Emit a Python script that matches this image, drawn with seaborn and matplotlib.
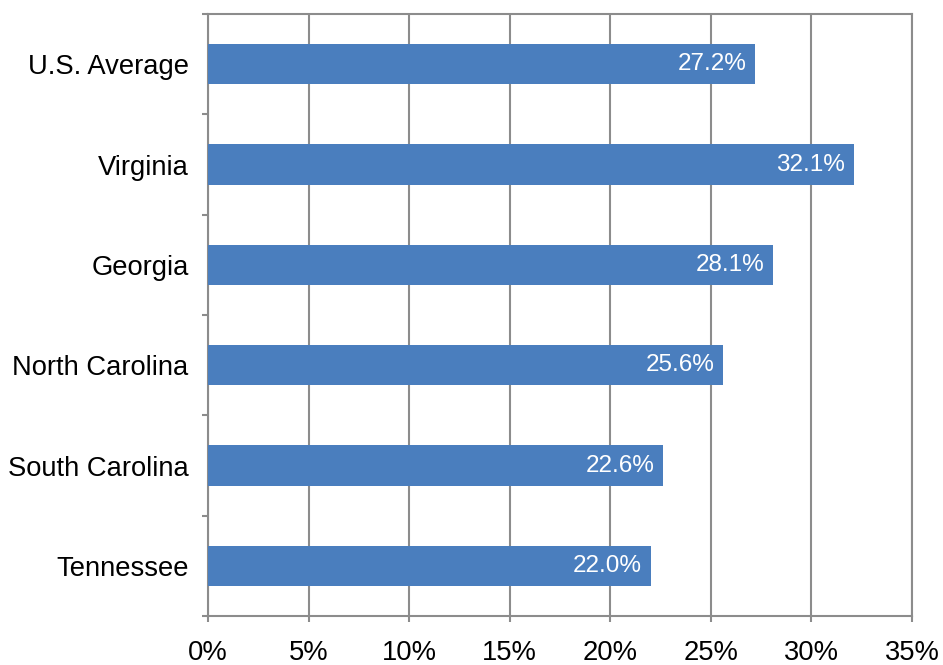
import numpy as np
import pandas as pd
import matplotlib
matplotlib.use("Agg")
import matplotlib.pyplot as plt
import seaborn as sns
from matplotlib.ticker import FixedLocator, FuncFormatter

states = ["U.S. Average", "Virginia", "Georgia", "North Carolina", "South Carolina", "Tennessee"]
share = [27.2, 32.1, 28.1, 25.6, 22.6, 22.0]
x_ticks = [0, 5, 10, 15, 20, 25, 30, 35]

df = pd.DataFrame({"state": states, "share": share})

sns.set_style("white")
plt.rcParams["font.family"] = ["Liberation Sans", "DejaVu Sans"]

grid_col = "#8c8c8c"
bar_col = "#4a7ebe"

fig = plt.figure(figsize=(9.43, 6.65), dpi=100)
ax = fig.add_axes([208 / 943, 1 - 616 / 665, (912 - 208) / 943, (616 - 14) / 665])

sns.barplot(data=df, x="share", y="state", orient="h", color=bar_col,
            width=0.4, saturation=1, linewidth=0, edgecolor=bar_col, ax=ax, zorder=3)

ax.bar_label(ax.containers[0], labels=[f"{v:.1f}%" for v in share],
             label_type="edge", padding=-6, color="white", fontsize=17.5)
for t in ax.texts:
    t.set_horizontalalignment("right")

ax.set_xlim(0, 35)
ax.set_ylim(5.5, -0.5)
ax.set_xticks(x_ticks)
ax.xaxis.set_major_formatter(FuncFormatter(lambda v, p: f"{v:.0f}%"))
ax.set_xlabel("")
ax.set_ylabel("")

ax.grid(axis="x", color=grid_col, linewidth=1.5, zorder=0)
ax.set_axisbelow(True)
for s in ax.spines.values():
    s.set_visible(True)
    s.set_color(grid_col)
    s.set_linewidth(1.5)

ax.yaxis.set_minor_locator(FixedLocator(np.arange(-0.5, 6.0, 1.0)))
ax.tick_params(axis="y", which="major", length=0, pad=14, labelsize=19.7, colors="black")
ax.tick_params(axis="y", which="minor", length=4, width=1.5, color=grid_col, left=True)
ax.tick_params(axis="x", which="major", length=4, width=1.5, color=grid_col,
               bottom=True, pad=13, labelsize=19.7, labelcolor="black")

fig.savefig("out.png", dpi=100)
